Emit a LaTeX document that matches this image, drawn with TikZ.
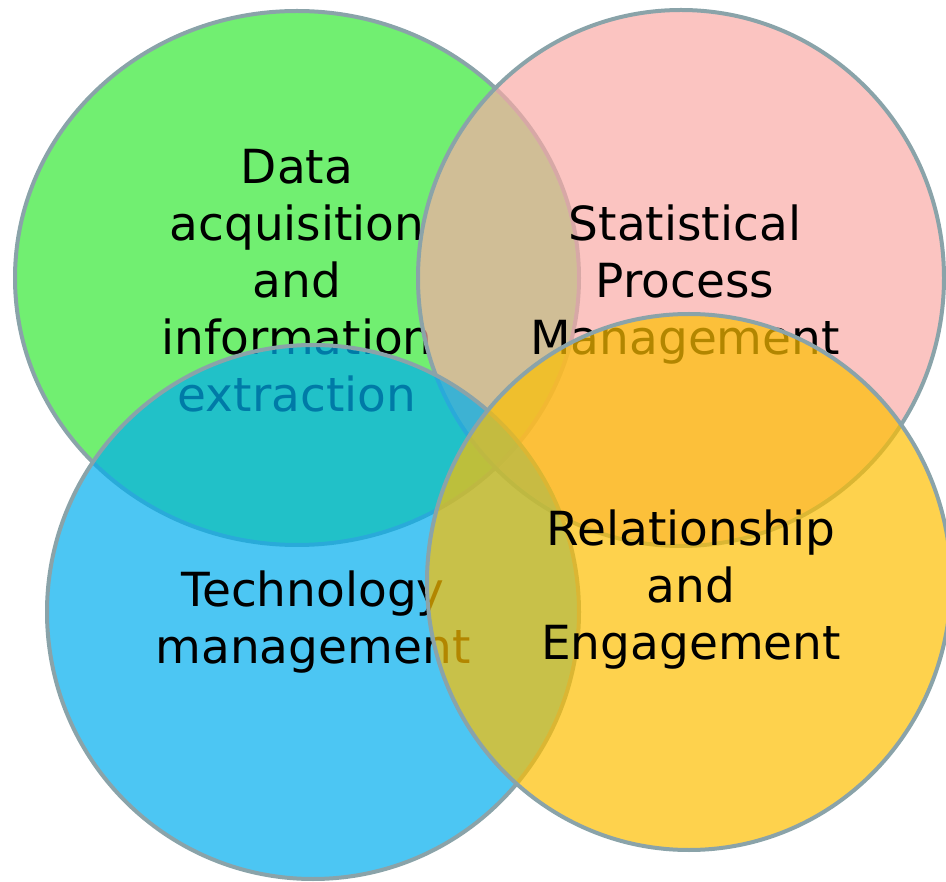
\documentclass[tikz,border=0pt]{standalone}
\usepackage{fontspec}
\setmainfont{DejaVu Sans}
\definecolor{vgreen}{RGB}{52,232,53}
\definecolor{vpink}{RGB}{249,171,166}
\definecolor{vblue}{RGB}{0,174,238}
\definecolor{vyellow}{RGB}{254,191,1}
\definecolor{edgec}{RGB}{138,163,169}
\begin{document}
\begin{tikzpicture}[x=1pt,y=-1pt,
  venn/.style={draw=edgec, line width=4pt, fill opacity=0.7, draw opacity=1},
  lbl/.style={font=\fontsize{47}{57}\selectfont, align=center, anchor=base, inner sep=0pt, text=black}]
\useasboundingbox (0,0) rectangle (946,882);
% green
\path[venn, fill=vgreen] (297,278) ellipse [x radius=282, y radius=267];
\node[lbl] (tgreen) at (297,412) {Data\\acquisition\\and\\information\\extraction};
% pink
\path[venn, fill=vpink] (681,278) ellipse [x radius=263, y radius=268];
\node[lbl] (tpink) at (685,355) {Statistical\\Process\\Management};
% blue
\path[venn, fill=vblue] (313,612) ellipse [x radius=266, y radius=267];
\node[lbl] (tblue) at (313,663) {Technology\\management};
% yellow
\path[venn, fill=vyellow] (689,582) ellipse [x radius=262, y radius=268];
\node[lbl] (tyellow) at (691,659) {Relationship\\and\\Engagement};
\end{tikzpicture}
\end{document}
